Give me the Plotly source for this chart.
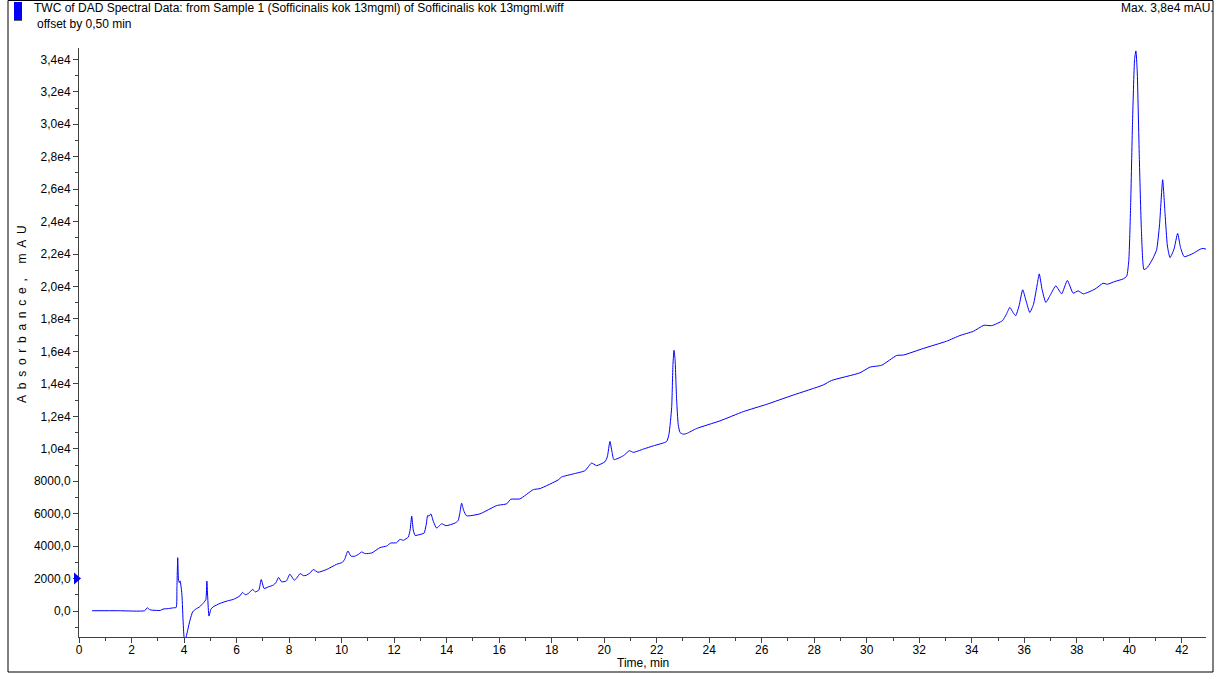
import plotly.graph_objects as go

# ---- data ----
time_min = [0.5, 1.5, 2.5, 2.6, 2.7, 2.8, 3.1, 3.2, 3.4, 3.6, 3.7, 3.73, 3.76, 3.79, 3.82, 3.85, 3.88,
            3.92, 3.97, 4.02, 4.08, 4.15, 4.23, 4.33, 4.45, 4.6, 4.75, 4.83, 4.87, 4.9, 4.95, 5.02,
            5.1, 5.37, 5.6, 5.88, 6.13, 6.23, 6.33, 6.45, 6.61, 6.72, 6.85, 6.94, 7.05, 7.2, 7.4,
            7.5, 7.6, 7.72, 7.9, 8.03, 8.2, 8.3, 8.42, 8.55, 8.65, 8.8, 8.92, 9.1, 9.43, 9.81,
            10.03, 10.12, 10.24, 10.36, 10.5, 10.65, 10.76, 10.9, 11.15, 11.46, 11.72, 11.87,
            12.1, 12.22, 12.35, 12.54, 12.61, 12.67, 12.73, 12.8, 12.99, 13.14, 13.22, 13.28,
            13.33, 13.4, 13.5, 13.62, 13.72, 13.81, 13.98, 14.32, 14.44, 14.5, 14.57, 14.65,
            14.76, 15.27, 15.91, 16.29, 16.44, 16.79, 17.3, 17.56, 18.25, 18.38, 18.82, 19.27,
            19.52, 19.71, 20.03, 20.12, 20.22, 20.3, 20.37, 20.73, 20.96, 21.11, 21.49, 21.87,
            22.38, 22.47, 22.57, 22.62, 22.66, 22.7, 22.76, 22.82, 22.89, 23.01, 23.14, 23.52,
            24.41, 25.3, 26.19, 27.2, 28.34, 28.66, 29.74, 30.12, 30.57, 31.14, 31.4, 32.15,
            33.04, 33.55, 34.06, 34.46, 34.76, 35.17, 35.32, 35.45, 35.57, 35.67, 35.8, 35.94,
            36.07, 36.21, 36.35, 36.5, 36.57, 36.68, 36.82, 37.0, 37.2, 37.42, 37.64, 37.86,
            38.05, 38.25, 38.69, 39.0, 39.16, 39.45, 39.77, 39.9, 39.98, 40.05, 40.12, 40.2,
            40.25, 40.3, 40.38, 40.46, 40.56, 40.7, 40.9, 41.04, 41.15, 41.27, 41.36, 41.45,
            41.55, 41.7, 41.84, 41.95, 42.09, 42.43, 42.7, 42.81, 42.92]
absorbance = [20, 20, 20, 200, 80, 50, 40, 120, 150, 200, 220, 1500, 3290, 1900, 1750, 1860, 1600,
              1000, -800, -1900, -1600, -1100, -550, -40, 120, 270, 520, 700, 1840, 900, -310, 100,
              250, 470, 600, 720, 940, 1150, 1000, 1080, 1330, 1180, 1300, 1940, 1390, 1480, 1600,
              1750, 2070, 1800, 1860, 2270, 1900, 2050, 2310, 2180, 2200, 2350, 2560, 2390, 2560, 2880,
              3000, 3200, 3700, 3380, 3380, 3500, 3640, 3540, 3580, 3910, 4010, 4190,
              4210, 4420, 4360, 4560, 5000, 5850, 5000, 4660, 4720, 4800, 5300, 5890,
              5850, 5990, 5500, 5110, 5250, 5380, 5260, 5420, 5580, 6000, 6650, 6200,
              5870, 5990, 6500, 6610, 6890, 6910, 7480, 7550, 8080, 8260, 8450, 8650,
              9120, 8960, 9200, 9500, 10450, 9800, 9330, 9570, 9880, 9780, 9980, 10180,
              10450, 10920, 12530, 15200, 16070, 15500, 13000, 11500, 11000, 10900, 10940, 11250,
              11720, 12290, 12740, 13310, 13930, 14210, 14680, 15030, 15150, 15750, 15780, 16180,
              16630, 16980, 17240, 17610, 17590, 17900, 18300, 18710, 18400, 18200, 18800, 19800,
              19100, 18400, 18900, 20200, 20780, 19800, 19020, 19500, 20040, 19550, 20370, 19590,
              19730, 19550, 19840, 20200, 20140, 20310, 20470, 20640, 21600, 25000, 30000, 34000,
              34520, 33300, 28000, 23500, 21040, 21200, 21740, 22270, 23800, 26580, 24500, 22500,
              21780, 22300, 23270, 22400, 21840, 22040, 22300, 22350, 22300]

x_tick_vals = list(range(0, 43, 2))
x_tick_text = [str(v) for v in x_tick_vals]
y_tick_vals = [0, 2000, 4000, 6000, 8000, 10000, 12000, 14000, 16000, 18000, 20000,
               22000, 24000, 26000, 28000, 30000, 32000, 34000]
y_tick_text = ["0,0", "2000,0", "4000,0", "6000,0", "8000,0", "1,0e4", "1,2e4", "1,4e4",
               "1,6e4", "1,8e4", "2,0e4", "2,2e4", "2,4e4", "2,6e4", "2,8e4", "3,0e4",
               "3,2e4", "3,4e4"]
marker_level = 2000

title_text = "TWC of DAD Spectral Data: from Sample 1 (Sofficinalis kok 13mgml) of Sofficinalis kok 13mgml.wiff"
subtitle_text = "offset by 0,50 min"
max_text = "Max. 3,8e4 mAU."
x_title = "Time, min"
y_title_letters = list("Absorbance,") + [" "] + list("mAU")

# ---- layout geometry (pixels) ----
W, H = 1228, 675
L, R, T, B = 79, 22, 48, 38
PW, PH = W - L - R, H - T - B
Y_MIN, Y_MAX = -1600, 34700


def px(xp):
    return (xp - L) / PW


def py(yp):
    return (H - B - yp) / PH


FONT = "Liberation Sans, Arial, sans-serif"
NB = "\u00a0"
GAP = NB + "\u2009"
y_title = GAP.join(ch if ch != " " else NB for ch in y_title_letters)

fig = go.Figure()
fig.add_trace(go.Scatter(x=time_min, y=absorbance, mode="lines",
                         line=dict(color="#0000ff", width=1, shape="spline", smoothing=0.5),
                         hoverinfo="skip"))

axis_common = dict(showgrid=False, zeroline=False, showline=True, linecolor="#404040", linewidth=1,
                   ticks="outside", ticklen=5, tickcolor="#404040", tickwidth=1,
                   tickfont=dict(family=FONT, size=12, color="#000000"))

fig.update_layout(
    width=W, height=H,
    margin=dict(l=L, r=R, t=T, b=B, pad=0),
    paper_bgcolor="white", plot_bgcolor="white",
    showlegend=False,
    font=dict(family=FONT, size=12, color="#000000"),
    xaxis=dict(range=[0, 42.92], tickmode="array", tickvals=x_tick_vals, ticktext=x_tick_text,
               minor=dict(dtick=1, ticks="outside", ticklen=3, tickcolor="#404040"),
               ticklabelstandoff=-3,
               **axis_common),
    yaxis=dict(range=[Y_MIN, Y_MAX], tickmode="array", tickvals=y_tick_vals, ticktext=y_tick_text,
               minor=dict(tickvals=[v + 1000 for v in ([-2000] + y_tick_vals)], ticks="outside",
                          ticklen=3, tickcolor="#404040"),
               **axis_common),
)

# outer frame
fig.add_shape(type="rect", xref="paper", yref="paper",
              x0=px(8), x1=px(1213), y0=py(672), y1=py(0.5),
              line=dict(color="#000000", width=1), fillcolor="rgba(0,0,0,0)", layer="below")
# blue legend swatch
fig.add_shape(type="rect", xref="paper", yref="paper",
              x0=px(14), x1=px(22), y0=py(20), y1=py(2),
              line=dict(width=0), fillcolor="#0000ff")
fig.add_shape(type="line", xref="paper", yref="paper",
              x0=px(14), x1=px(22), y0=py(20.5), y1=py(20.5),
              line=dict(color="#606060", width=1))
# blue level marker on the y axis
dv = 6 * (Y_MAX - Y_MIN) / PH
fig.add_shape(type="path", xref="paper", yref="y",
              path=f"M {px(74)} {marker_level - dv} L {px(74)} {marker_level + dv} "
                   f"L {px(81)} {marker_level} Z",
              line=dict(width=0), fillcolor="#0000ff")

fig.add_annotation(text=title_text, xref="paper", yref="paper", x=px(32), y=py(8),
                   xanchor="left", yanchor="middle", showarrow=False,
                   font=dict(family=FONT, size=12, color="#000000"))
fig.add_annotation(text=subtitle_text, xref="paper", yref="paper", x=px(35), y=py(24),
                   xanchor="left", yanchor="middle", showarrow=False,
                   font=dict(family=FONT, size=12, color="#000000"))
fig.add_annotation(text=max_text, xref="paper", yref="paper", x=px(1216), y=py(8),
                   xanchor="right", yanchor="middle", showarrow=False,
                   font=dict(family=FONT, size=12, color="#000000"))
fig.add_annotation(text=x_title, xref="paper", yref="paper", x=px(643), y=py(663),
                   xanchor="center", yanchor="middle", showarrow=False,
                   font=dict(family=FONT, size=12, color="#000000"))
fig.add_annotation(text=y_title, xref="paper", yref="paper", x=px(22), y=py(314),
                   xanchor="center", yanchor="middle", showarrow=False, textangle=-90,
                   font=dict(family=FONT, size=12, color="#000000"))

fig.write_html("out.html", config={"displayModeBar": False},
               post_script="document.body.style.margin='0';document.body.style.overflow='hidden';")
